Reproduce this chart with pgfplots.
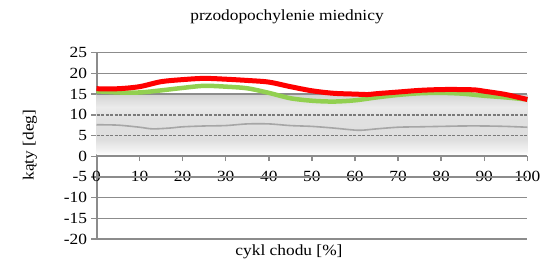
\documentclass[border=0pt]{standalone}
\usepackage{fontspec}
\setmainfont{Liberation Serif}[FakeStretch=1.12]
\usepackage{pgfplots}
\pgfplotsset{compat=1.18}
\usepgfplotslibrary{fillbetween}
\definecolor{gridgray}{HTML}{8C8C8C}
\definecolor{dashgray}{HTML}{7A7A7A}
\definecolor{exgreen}{HTML}{92D050}
\definecolor{meangray}{HTML}{A6A6A6}
\pgfdeclareverticalshading{band}{100bp}{color(0bp)=(white); color(25bp)=(white); color(28bp)=(white!96!black); color(38bp)=(black!13); color(55bp)=(black!12); color(65bp)=(black!8); color(72bp)=(black!14); color(75bp)=(black!17); color(100bp)=(black!17)}
\begin{document}
\begin{tikzpicture}
\begin{axis}[
  set layers,
  scale only axis, width=430.8pt, height=186.3pt,
  xmin=0, xmax=100, ymin=-20, ymax=25,
  axis x line=middle, axis y line=left,
  hide obscured x ticks=false,
  axis line style={-, gridgray, line width=2pt},
  xtick={0,10,...,100},
  ytick={-20,-15,...,25},
  yticklabels={\hbox{-20},\hbox{-15},\hbox{-10},\hbox{-5},\hbox{0},\hbox{5},\hbox{10},\hbox{15},\hbox{20},\hbox{25}},
  tick style={gridgray, line width=1.4pt},
  major tick length=5pt,
  tick align=outside,
  font=\fontsize{15.5}{18}\selectfont,
  /pgf/number format/assume math mode=true,
  xticklabel style={anchor=center, yshift=-15pt},
  yticklabel style={xshift=-1pt},
  clip=false,
]
\coordinate (ll) at (rel axis cs:0,0);
\addplot[name path=U, draw=none, forget plot] coordinates {(0,14.8) (100,14.8)};
\addplot[name path=L, draw=none, forget plot] coordinates {(0,0.3) (100,0.3)};
\addplot[on layer=axis background, shading=band, draw=none] fill between[of=U and L];
% grid lines
\addplot[gridgray, line width=1.4pt, forget plot] coordinates {(0,25) (100,25)};
\addplot[gridgray, line width=1.4pt, forget plot] coordinates {(0,20) (100,20)};
\addplot[gridgray, line width=1.4pt, forget plot] coordinates {(0,15) (100,15)};
\addplot[dashgray, line width=1.5pt, dash pattern=on 3pt off 1.5pt, forget plot] coordinates {(0,10) (100,10)};
\addplot[dashgray, line width=1.5pt, dash pattern=on 3pt off 1.5pt, forget plot] coordinates {(0,5) (100,5)};
\addplot[gridgray, line width=1.4pt, forget plot] coordinates {(0,-5) (100,-5)};
\addplot[gridgray, line width=1.4pt, forget plot] coordinates {(0,-10) (100,-10)};
\addplot[gridgray, line width=1.4pt, forget plot] coordinates {(0,-15) (100,-15)};
\addplot[gridgray, line width=1.4pt, forget plot] coordinates {(0,-20) (100,-20)};
\addplot[meangray, line width=1.6pt, smooth] coordinates {
(0,7.6) (5,7.5) (10,7.0) (13,6.6) (17,6.8) (20,7.1) (25,7.3) (30,7.4) (35,7.8) (40,7.8) (45,7.4) (50,7.2) (55,6.8) (60,6.3) (62,6.3) (65,6.6) (70,7.0) (75,7.1) (80,7.2) (85,7.3) (90,7.3) (95,7.2) (100,7.0)};
\addplot[exgreen, line width=4.5pt, smooth] coordinates {
(0,15.7) (5,15.4) (10,15.4) (15,15.9) (20,16.5) (25,17.0) (30,16.8) (35,16.4) (40,15.3) (45,14.0) (50,13.4) (55,13.2) (60,13.5) (65,14.2) (70,14.8) (75,15.2) (80,15.3) (85,15.1) (90,14.6) (95,14.2) (100,13.7)};
\addplot[red, line width=5pt, smooth] coordinates {
(0,16.3) (5,16.3) (10,16.8) (15,18.0) (20,18.5) (25,18.8) (30,18.6) (35,18.3) (40,17.9) (45,16.8) (50,15.8) (55,15.2) (60,15.0) (63,14.9) (65,15.1) (70,15.5) (75,15.9) (80,16.1) (85,16.1) (88,16.0) (90,15.7) (95,14.9) (100,13.7)};
\end{axis}
\node[font=\fontsize{15.5}{18}\selectfont] at ([shift={(190.5pt,222pt)}]ll) {przodopochylenie miednicy};
\node[font=\fontsize{15.5}{18}\selectfont] at ([shift={(192.5pt,-13pt)}]ll) {cykl chodu [\%]};
\node[font=\fontsize{15.5}{18}\selectfont, rotate=90] at ([shift={(-66.5pt,94pt)}]ll) {kąty [deg]};
\pgfresetboundingbox
\path[use as bounding box] ([shift={(-96.5pt,-28pt)}]ll) rectangle ++(545pt,267pt);
\end{tikzpicture}
\end{document}
